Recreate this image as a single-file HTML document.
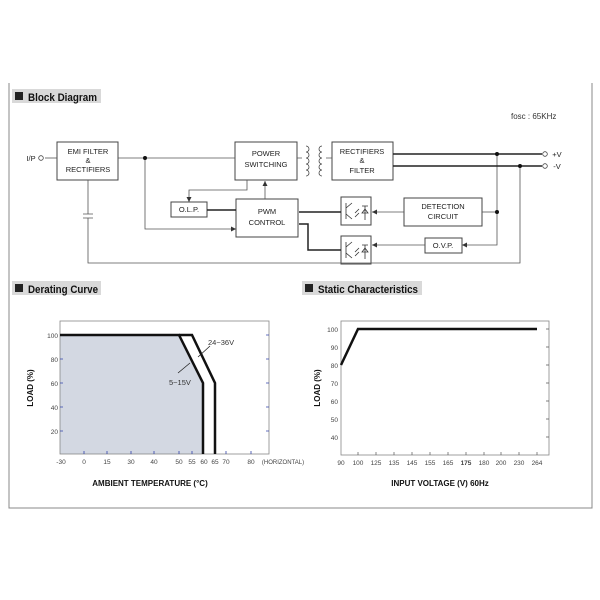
<!DOCTYPE html>
<html><head><meta charset="utf-8"><style>
body{margin:0;background:#fff}
svg{display:block}
text{font-family:"Liberation Sans",sans-serif}
</style></head><body>
<svg width="600" height="600" viewBox="0 0 600 600" xmlns="http://www.w3.org/2000/svg">
<defs>
<marker id="a" markerWidth="6" markerHeight="6" refX="5" refY="3" orient="auto" markerUnits="userSpaceOnUse"><path d="M0,0.5 L5,3 L0,5.5z" fill="#333"/></marker>
</defs>
<path d="M9,83 V508 H592 V83" fill="none" stroke="#888" stroke-width="1"/>
<rect x="12" y="89" width="89" height="14" fill="#d9d9d9"/>
<rect x="15" y="92" width="8" height="8" fill="#222"/>
<text x="28" y="101" font-size="11" font-weight="bold" fill="#111" textLength="69" lengthAdjust="spacingAndGlyphs">Block Diagram</text>
<rect x="12" y="281" width="89" height="14" fill="#d9d9d9"/>
<rect x="15" y="284" width="8" height="8" fill="#222"/>
<text x="28" y="293" font-size="11" font-weight="bold" fill="#111" textLength="70" lengthAdjust="spacingAndGlyphs">Derating Curve</text>
<rect x="302" y="281" width="120" height="14" fill="#d9d9d9"/>
<rect x="305" y="284" width="8" height="8" fill="#222"/>
<text x="318" y="293" font-size="11" font-weight="bold" fill="#111" textLength="100" lengthAdjust="spacingAndGlyphs">Static Characteristics</text>

<text x="511" y="119" font-size="8" fill="#333">fosc : 65KHz</text>

<g font-size="7.5" fill="#222" text-anchor="middle" stroke="#444" stroke-width="1">
<rect x="57" y="142" width="61" height="38" fill="#fff"/>
<rect x="235" y="142" width="62" height="38" fill="#fff"/>
<rect x="332" y="142" width="61" height="38" fill="#fff"/>
<rect x="171" y="202" width="36" height="15" fill="#fff"/>
<rect x="236" y="199" width="62" height="38" fill="#fff"/>
<rect x="404" y="198" width="78" height="28" fill="#fff"/>
<rect x="425" y="238" width="37" height="15" fill="#fff"/>
<rect x="341" y="197" width="30" height="28" fill="#fff"/>
<rect x="341" y="236" width="30" height="28" fill="#fff"/>
</g>
<g font-size="7.5" fill="#222" text-anchor="middle">
<text x="88" y="154">EMI FILTER</text><text x="88" y="163">&amp;</text><text x="88" y="172">RECTIFIERS</text>
<text x="266" y="156">POWER</text><text x="266" y="167">SWITCHING</text>
<text x="362" y="154">RECTIFIERS</text><text x="362" y="163">&amp;</text><text x="362" y="173">FILTER</text>
<text x="189" y="212">O.L.P.</text>
<text x="267" y="214">PWM</text><text x="267" y="225">CONTROL</text>
<text x="443" y="209">DETECTION</text><text x="443" y="219">CIRCUIT</text>
<text x="443" y="248">O.V.P.</text>
<text x="31" y="161">I/P</text>
<text x="557" y="157">+V</text><text x="557" y="169">-V</text>
</g>
<g fill="none" stroke="#444" stroke-width="0.8">
<path d="M306,146 a3,3 0 0 1 0,6 a3,3 0 0 1 0,6 a3,3 0 0 1 0,6 a3,3 0 0 1 0,6 a3,3 0 0 1 0,6"/>
<path d="M322,146 a3,3 0 0 0 0,6 a3,3 0 0 0 0,6 a3,3 0 0 0 0,6 a3,3 0 0 0 0,6 a3,3 0 0 0 0,6"/>
</g>
<g stroke="#333" stroke-width="0.8" fill="none">
<path d="M346,203 V219 M346,208 L352,203 M346,214 L352,219 M355,213 L359,209 M355,217 L359,213 M362,206 H368 M365,206 V220 M362,213 H368 L365,209z"/>
<path d="M346,242 V258 M346,247 L352,242 M346,253 L352,258 M355,252 L359,248 M355,256 L359,252 M362,245 H368 M365,245 V259 M362,252 H368 L365,248z"/>
</g>
<g fill="none" stroke="#555" stroke-width="0.8">
<path d="M45,158 H57"/>
<path d="M118,158 H235"/>
<path d="M145,158 V229 H236" marker-end="url(#a)"/>
<path d="M247,180 V190 H189 V202" marker-end="url(#a)"/>
<path d="M265,199 V181" marker-end="url(#a)"/>
<path d="M297,158 H302 M326,158 H332"/>
<path d="M88,180 V214 M83,214 H93 M83,218 H93 M88,218 V263 H520 V166"/>
<path d="M404,212 H372" marker-end="url(#a)"/>
<path d="M482,212 H497"/>
<path d="M497,154 V245 H462" marker-end="url(#a)"/>
<path d="M425,245 H372" marker-end="url(#a)"/>
</g>
<g fill="none" stroke="#222" stroke-width="1.5">
<path d="M393,154 H542 M393,166 H542"/>
<path d="M207,210 H236"/>
<path d="M341,212 H299"/>
<path d="M341,250 H308 V224 H299"/>
</g>
<circle cx="41" cy="158" r="2.3" fill="#fff" stroke="#444" stroke-width="0.8"/>
<circle cx="545" cy="154" r="2.3" fill="#fff" stroke="#444" stroke-width="0.8"/>
<circle cx="545" cy="166" r="2.3" fill="#fff" stroke="#444" stroke-width="0.8"/>
<g fill="#111"><circle cx="145" cy="158" r="2"/><circle cx="497" cy="154" r="2"/><circle cx="520" cy="166" r="2"/><circle cx="497" cy="212" r="2"/></g>

<path d="M60,454 V335 H179 L203,383 V454z" fill="#d3d8e2"/>
<rect x="60" y="321" width="209" height="133" fill="none" stroke="#888" stroke-width="0.8"/>
<g stroke="#34a" stroke-width="0.8">
<path d="M60,335 h3 M60,359 h3 M60,383 h3 M60,407 h3 M60,431 h3 M269,335 h-3 M269,359 h-3 M269,383 h-3 M269,407 h-3 M269,431 h-3"/>
<path d="M84,454 v-3 M107,454 v-3 M131,454 v-3 M154,454 v-3 M179,454 v-3 M192,454 v-3 M215,454 v-3 M226,454 v-3 M251,454 v-3"/>
</g>
<path d="M60,335 H179 L203,383 V454" fill="none" stroke="#111" stroke-width="2.5"/>
<path d="M179,335 H192 L215,383 V454" fill="none" stroke="#111" stroke-width="2.5"/>
<path d="M198,357 L210,346 M178,373 L190,363" stroke="#222" stroke-width="0.8"/>
<g font-size="7.5" fill="#333">
<text x="208" y="345">24~36V</text><text x="169" y="385">5~15V</text>
</g>
<g font-size="6.5" fill="#444" text-anchor="end">
<text x="58" y="338">100</text><text x="58" y="362">80</text><text x="58" y="386">60</text><text x="58" y="410">40</text><text x="58" y="434">20</text>
</g>
<g font-size="6.5" fill="#444" text-anchor="middle">
<text x="61" y="464">-30</text><text x="84" y="464">0</text><text x="107" y="464">15</text><text x="131" y="464">30</text><text x="154" y="464">40</text><text x="179" y="464">50</text><text x="192" y="464">55</text><text x="204" y="464">60</text><text x="215" y="464">65</text><text x="226" y="464">70</text><text x="251" y="464">80</text><text x="283" y="464" font-size="6">(HORIZONTAL)</text>
</g>
<text x="150" y="486" font-size="8" font-weight="bold" text-anchor="middle" fill="#111">AMBIENT TEMPERATURE (°C)</text>
<text transform="translate(33,388) rotate(-90)" font-size="8" font-weight="bold" text-anchor="middle" fill="#111">LOAD (%)</text>

<rect x="341" y="321" width="208" height="134" fill="none" stroke="#888" stroke-width="0.8"/>
<g stroke="#555" stroke-width="0.7">
<path d="M549,329 h-3 M549,347 h-3 M549,365 h-3 M549,383 h-3 M549,401 h-3 M549,419 h-3 M549,437 h-3"/>
<path d="M358,455 v-3 M376,455 v-3 M394,455 v-3 M412,455 v-3 M430,455 v-3 M448,455 v-3 M466,455 v-3 M484,455 v-3 M501,455 v-3 M519,455 v-3 M537,455 v-3"/>
</g>
<path d="M341,365 L358,329 H537" fill="none" stroke="#111" stroke-width="2.5"/>
<g font-size="6.5" fill="#444" text-anchor="end">
<text x="338" y="332">100</text><text x="338" y="350">90</text><text x="338" y="368">80</text><text x="338" y="386">70</text><text x="338" y="404">60</text><text x="338" y="422">50</text><text x="338" y="440">40</text>
</g>
<g font-size="6.5" fill="#444" text-anchor="middle">
<text x="341" y="465">90</text><text x="358" y="465">100</text><text x="376" y="465">125</text><text x="394" y="465">135</text><text x="412" y="465">145</text><text x="430" y="465">155</text><text x="448" y="465">165</text><text x="466" y="465" font-weight="bold">175</text><text x="484" y="465">180</text><text x="501" y="465">200</text><text x="519" y="465">230</text><text x="537" y="465">264</text>
</g>
<text x="440" y="486" font-size="8" font-weight="bold" text-anchor="middle" fill="#111">INPUT VOLTAGE (V) 60Hz</text>
<text transform="translate(320,388) rotate(-90)" font-size="8" font-weight="bold" text-anchor="middle" fill="#111">LOAD (%)</text>
</svg>
</body></html>
